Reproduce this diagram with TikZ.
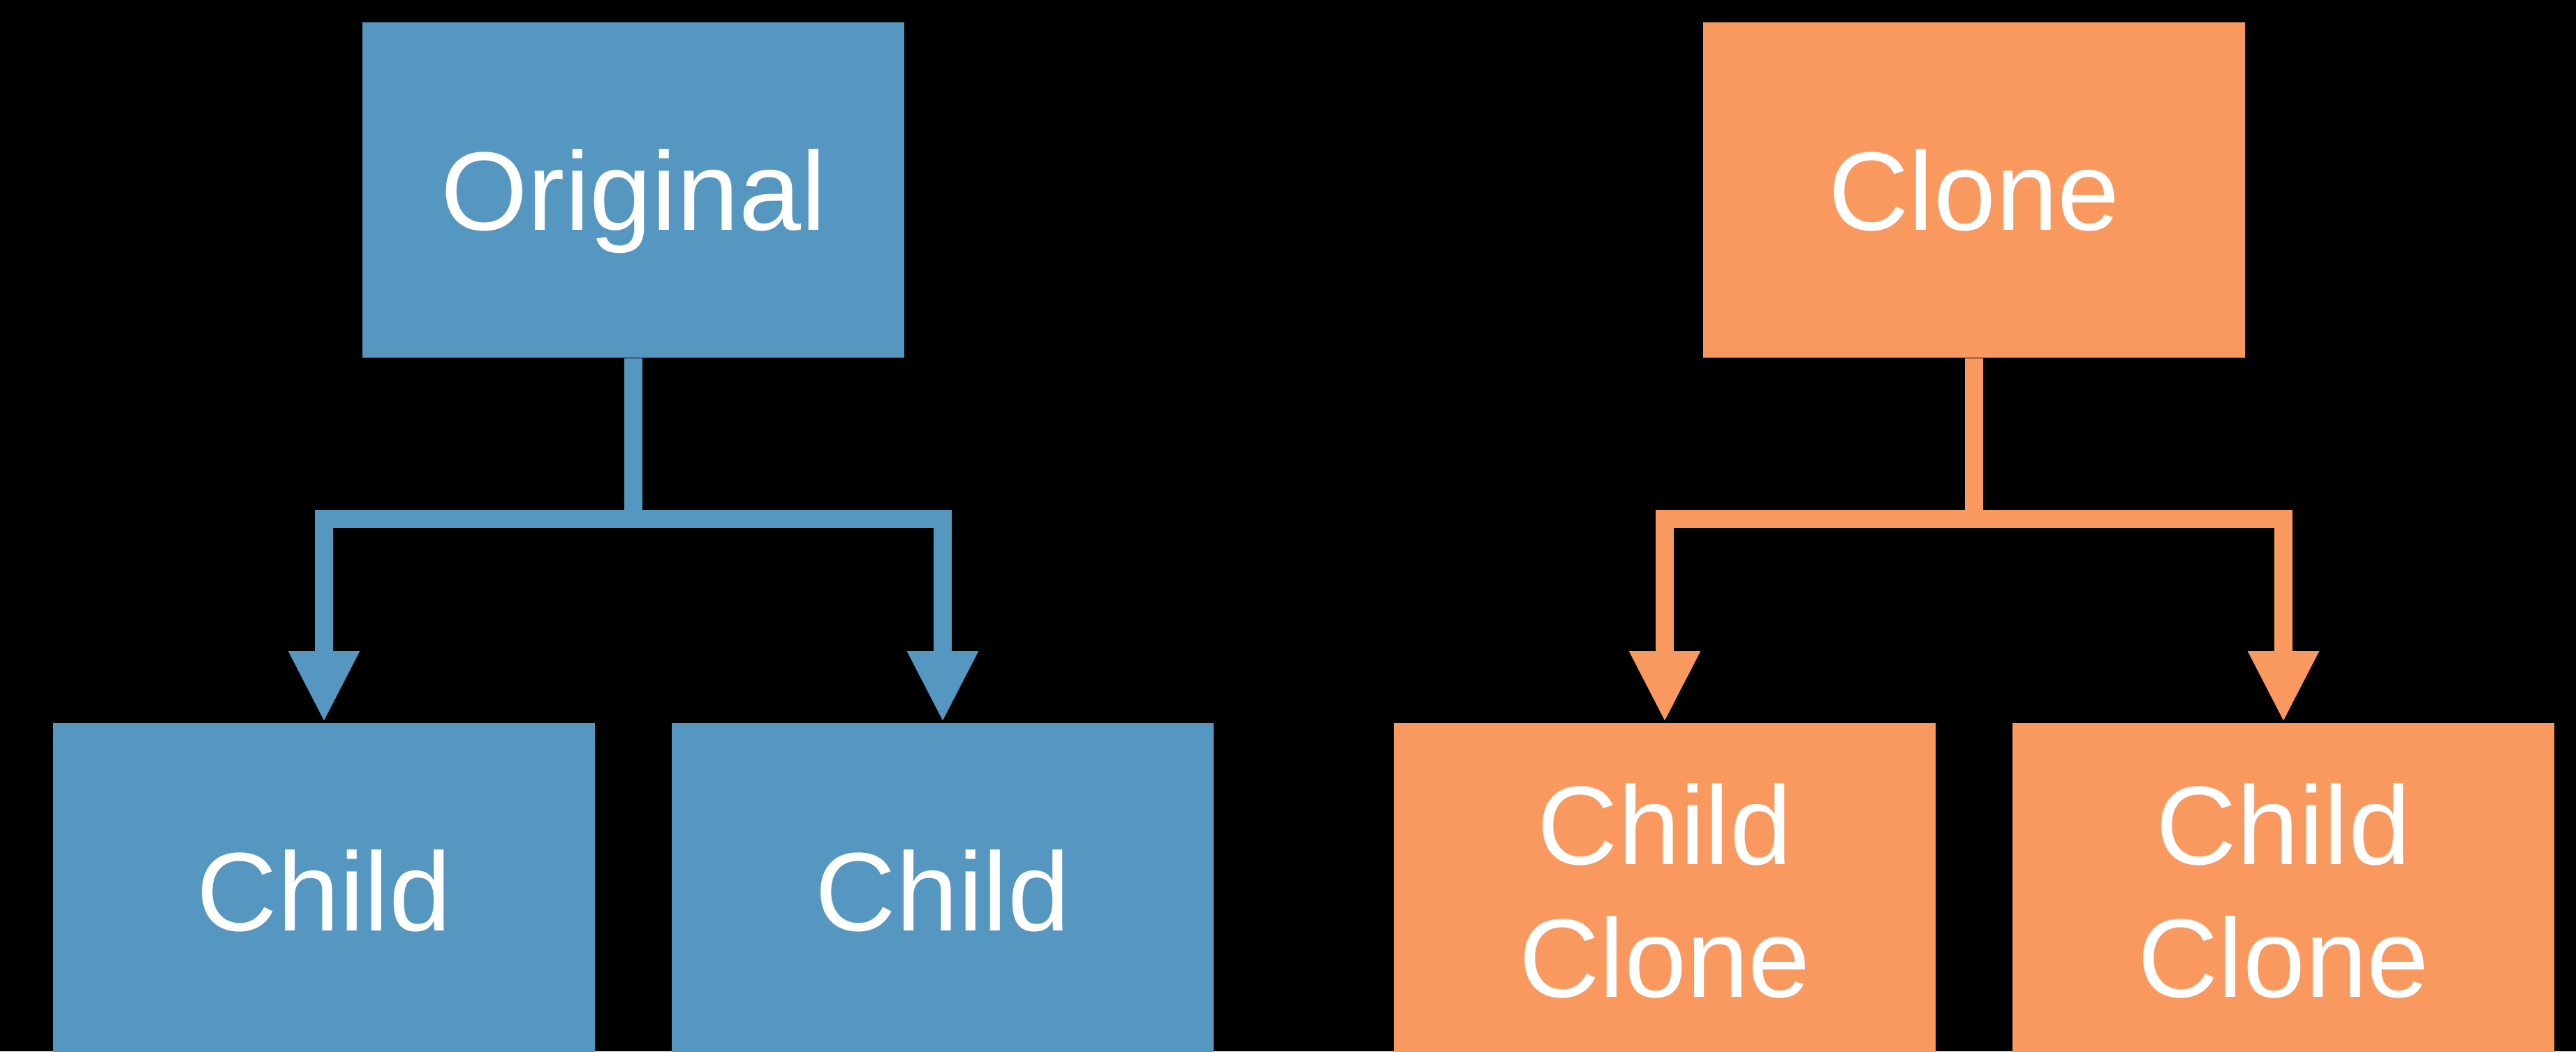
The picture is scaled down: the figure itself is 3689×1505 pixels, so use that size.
\documentclass[tikz,border=0pt]{standalone}
\usepackage{fontspec}
\setmainfont{Liberation Sans}
\usetikzlibrary{arrows.meta}
\definecolor{blueA}{RGB}{85,151,193}
\definecolor{orangeA}{RGB}{249,153,96}
\begin{document}
\begin{tikzpicture}[x=0.2pt,y=-0.2pt,
  box/.style={rectangle, inner sep=0pt, minimum width=155.2pt, minimum height=96pt,
    text=white, font=\fontsize{32}{38}\selectfont, align=center, text depth=0pt},
  oneline/.style={text height=22.9pt},
  twoline/.style={text height=60.9pt},
  conn/.style={line width=5.2pt, -{Triangle[width=18.9pt,length=20.4pt]}, line join=miter}
]
\fill[black] (0,0) rectangle (3689,1505);
\useasboundingbox (0,0) rectangle (3689,1505);
\clip (0,0) rectangle (3689,1505);
\node[box,oneline,fill=blueA] (orig) at (907,272) {Original};
\node[box,oneline,fill=blueA] (c1) at (464,1275) {Child};
\node[box,oneline,fill=blueA] (c2) at (1350,1275) {Child};
\node[box,oneline,fill=orangeA] (clone) at (2827,272) {Clone};
\node[box,twoline,fill=orangeA] (cc1) at (2384,1275) {Child\\Clone};
\node[box,twoline,fill=orangeA] (cc2) at (3270,1275) {Child\\Clone};
\draw[conn, draw=blueA] (orig.south) -- ++(0,230) -| (c1.north);
\draw[conn, draw=blueA] (orig.south) -- ++(0,230) -| (c2.north);
\draw[conn, draw=orangeA] (clone.south) -- ++(0,230) -| (cc1.north);
\draw[conn, draw=orangeA] (clone.south) -- ++(0,230) -| (cc2.north);
\end{tikzpicture}
\end{document}
